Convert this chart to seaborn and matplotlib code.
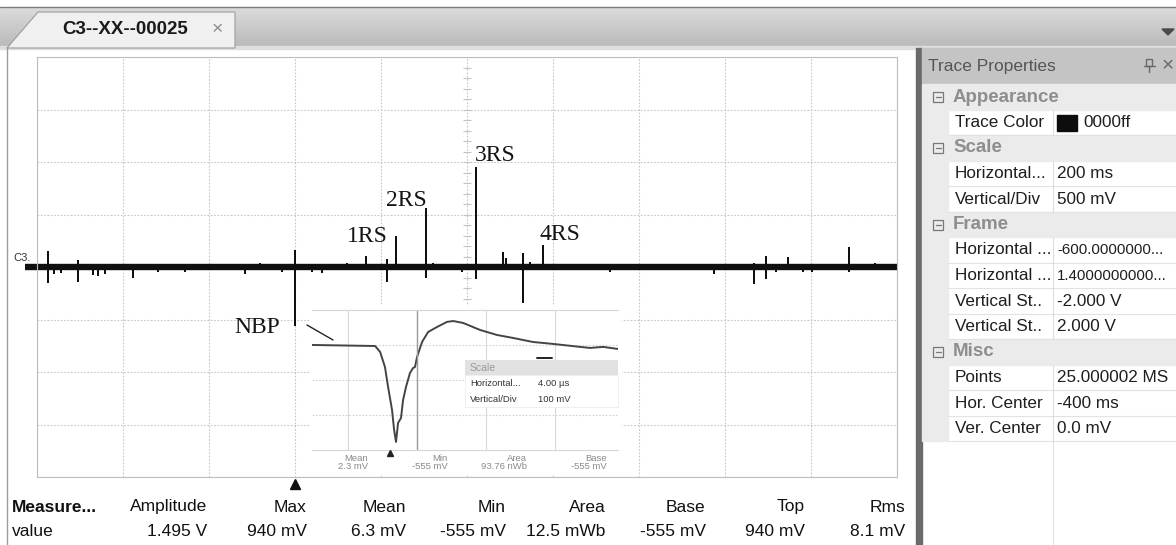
import numpy as np
import pandas as pd
import matplotlib
matplotlib.use("Agg")
import matplotlib.pyplot as plt
import matplotlib.transforms as mtransforms
from matplotlib.patches import Rectangle, Polygon
import seaborn as sns

W, H = 1176, 545

# ---------------- data ----------------
tab_title = "C3--XX--00025"
channel_name = "C3."

H_DIV_MS = 200        # horizontal scale (ms / div)
V_DIV_MV = 500        # vertical scale (mV / div)
CENTER_MS = -400      # horizontal centre

spike_time_ms = [-1374, -1360, -1344, -1305, -1270, -1258, -1242, -1177, -1119, -1056,
                 -916, -881, -830, -800, -760, -737, -679, -635, -586, -565,
                 -495, -479, -412, -379, -316, -309, -270, -253, -223, -67,
                 174, 267, 295, 319, 347, 381, 402, 488, 549]
spike_high_mV = [143, 0, 0, 57, 0, 0, 0, 0, 0, 0,
                 10, 29, 0, 152, 0, 0, 29, 95, 67, 285,
                 552, 29, 0, 940, 133, 76, 124, 38, 200, 0,
                 0, 29, 95, 0, 86, 0, 0, 181, 29]
spike_low_mV = [-143, -57, -48, -133, -67, -76, -57, -95, -38, -38,
                -57, 0, -38, -555, -38, -48, 0, 0, -133, -20,
                -95, 0, -38, -105, 0, 0, -333, 0, 0, -38,
                -57, -152, -105, -38, 0, -38, -38, -38, 0]

event_labels = ["NBP", "1RS", "2RS", "3RS", "4RS"]
event_time_ms = [-800, -565, -495, -379, -223]

# zoomed NBP waveform (inset)
inset_t_us = [1.91, 5.57, 5.86, 6.14, 6.32, 6.55, 6.67, 6.78, 6.90, 7.07, 7.19, 7.36, 7.59,
              7.77, 7.88, 8.0, 8.29, 8.64, 9.16, 9.74, 10.09, 10.67, 11.65, 12.64, 13.57,
              14.72, 15.88, 17.45, 18.03, 18.78, 19.65]
inset_v_mV = [0, -6, -40, -126, -240, -372, -486, -555, -446, -418, -315, -240, -160,
              -132, -126, -69, 17, 74, 103, 132, 137, 126, 86, 57, 40,
              17, 6, -11, -17, -11, -23]
inset_meas_names = ["Mean", "Min", "Area", "Base"]
inset_meas_values = ["2.3 mV", "-555 mV", "93.76 nWb", "-555 mV"]
inset_scale_names = ["Horizontal...", "Vertical/Div"]
inset_scale_values = ["4.00 µs", "100 mV"]

meas_names = ["Amplitude", "Max", "Mean", "Min", "Area", "Base", "Top", "Rms"]
meas_values = ["1.495 V", "940 mV", "6.3 mV", "-555 mV", "12.5 mWb", "-555 mV", "940 mV", "8.1 mV"]

prop_names = ["Appearance", "Trace Color", "Scale", "Horizontal...", "Vertical/Div", "Frame",
              "Horizontal ...", "Horizontal ...", "Vertical St..", "Vertical St..", "Misc",
              "Points", "Hor. Center", "Ver. Center"]
prop_values = [None, "0000ff", None, "200 ms", "500 mV", None,
               "-600.0000000...", "1.4000000000...", "-2.000 V", "2.000 V", None,
               "25.000002 MS", "-400 ms", "0.0 mV"]

# ---------------- style ----------------
sns.set_style("white")
plt.rcParams['font.family'] = ['Liberation Sans', 'DejaVu Sans']

fig = plt.figure(figsize=(W / 100, H / 100), dpi=100)


def px_rect(x0, y0, x1, y1):
    return [x0 / W, 1 - y1 / H, (x1 - x0) / W, (y1 - y0) / H]


def px_axes(x0, y0, x1, y1, z):
    a = fig.add_axes(px_rect(x0, y0, x1, y1), zorder=z)
    a.set_xlim(x0, x1)
    a.set_ylim(y1, y0)
    a.set_xticks([])
    a.set_yticks([])
    for s in a.spines.values():
        s.set_visible(False)
    return a


# ---------------- background chrome ----------------
bg = px_axes(0, 0, W, H, 0)
bg.set_facecolor('white')
grad = np.linspace(0.86, 0.73, 60).reshape(-1, 1)
bg.imshow(grad, extent=(0, W, 46, 7), cmap='gray', vmin=0, vmax=1, aspect='auto', zorder=0)
bg.plot([0, W], [7, 7], color='#7c7c7c', lw=1)
bg.add_patch(Rectangle((0, 46), W, 3, color='#dedede', zorder=1))
bg.add_patch(Polygon([(7, 48), (38, 12), (235, 12), (235, 48)], closed=True,
                     facecolor='#f0f0f0', edgecolor='#9c9c9c', lw=0.8, zorder=2))
bg.text(62, 30, tab_title, fontsize=13.5, fontweight='bold', color='#1a1a1a', va='center', ha='left')
bg.text(217, 30, "×", fontsize=14, color='#8c8c8c', va='center', ha='center')
bg.add_patch(Polygon([(1162, 29), (1174, 29), (1168, 35)], closed=True, color='#4a4a4a', zorder=2))

# main panel border and separator
bg.plot([7, 7], [48, H], color='#9c9c9c', lw=1)
bg.add_patch(Rectangle((916, 48), 6, H - 48, color='#6a6a6a', zorder=2))

# channel marker
bg.text(13, 258, channel_name, fontsize=8, color='#333333', va='center', ha='left')
bg.plot([25, 38], [267, 267], color='#101010', lw=4.6, solid_capstyle='butt')

# bottom measurement table
bg.text(12, 507, "Measure...", fontsize=12.5, fontweight='bold', color='#111111', va='center', ha='left')
bg.text(12, 531, "value", fontsize=12.5, color='#111111', va='center', ha='left')
for i, (n, v) in enumerate(zip(meas_names, meas_values)):
    xr = 207 + 99.7 * i
    bg.text(xr, 507, n, fontsize=12.5, color='#111111', va='center', ha='right')
    bg.text(xr, 531, v, fontsize=12.5, color='#111111', va='center', ha='right')

# right property panel
bg.add_patch(Rectangle((922, 48), W - 922, 35, color='#c4c4c4', zorder=2))
bg.text(928, 66, "Trace Properties", fontsize=12.5, color='#555555', va='center', ha='left', zorder=3)
bg.add_patch(Rectangle((1146, 59), 6, 7, fill=False, edgecolor='#6a6a6a', lw=1, zorder=3))
bg.plot([1143.5, 1154.5], [66, 66], color='#6a6a6a', lw=1, zorder=3)
bg.plot([1149, 1149], [66, 72], color='#6a6a6a', lw=1, zorder=3)
bg.text(1168, 66, "×", fontsize=15, color='#6a6a6a', va='center', ha='center', zorder=3)

row_h = 25.5
y0 = 97
for k, (n, v) in enumerate(zip(prop_names, prop_values)):
    yc = y0 + row_h * k
    top = yc - row_h / 2
    if v is None:
        bg.add_patch(Rectangle((922, top), W - 922, row_h, color='#ebebeb', zorder=2))
        bg.add_patch(Rectangle((933, yc - 5), 10, 10, fill=False, edgecolor='#777777', lw=0.9, zorder=3))
        bg.plot([935.5, 940.5], [yc, yc], color='#777777', lw=0.9, zorder=3)
        bg.text(953, yc, n, fontsize=13.5, fontweight='bold', color='#8e8e8e', va='center', ha='left', zorder=3)
    else:
        bg.add_patch(Rectangle((922, top), 26, row_h, color='#ebebeb', zorder=2))
        bg.plot([948, W], [top + row_h, top + row_h], color='#e2e2e2', lw=0.8, zorder=3)
        bg.plot([1053, 1053], [top, top + row_h], color='#dcdcdc', lw=0.8, zorder=3)
        bg.text(955, yc, n, fontsize=12.3, color='#1e1e1e', va='center', ha='left', zorder=3)
        vfs = 10.8 if len(v) > 12 else 12.3
        if n == "Trace Color":
            bg.add_patch(Rectangle((1057, yc - 7.5), 20, 16, color='#0d0d0d', zorder=3))
            bg.text(1083, yc, v, fontsize=vfs, color='#1e1e1e', va='center', ha='left', zorder=3)
        else:
            bg.text(1057, yc, v, fontsize=vfs, color='#1e1e1e', va='center', ha='left', zorder=3)
last_bottom = y0 + row_h * (len(prop_names) - 0.5)
bg.plot([1053, 1053], [last_bottom, H], color='#e2e2e2', lw=0.8, zorder=3)
bg.set_xlim(0, W)
bg.set_ylim(H, 0)

# ---------------- main oscilloscope trace ----------------
x_lo, x_hi = CENTER_MS - 5 * H_DIV_MS, CENTER_MS + 5 * H_DIV_MS
y_lo, y_hi = -4 * V_DIV_MV, 4 * V_DIV_MV

pts = [(x_lo, 0)]
for t, hi, lo in zip(spike_time_ms, spike_high_mV, spike_low_mV):
    pts += [(t, 0), (t, hi), (t, lo), (t, 0)]
pts.append((x_hi, 0))
trace = pd.DataFrame(pts, columns=["t", "v"])

ax = fig.add_axes(px_rect(37, 57, 897, 477), zorder=2)
ax.set_facecolor('white')
sns.lineplot(x=[x_lo, x_hi], y=[0, 0], ax=ax, color='#101010', lw=4.6, estimator=None, sort=False)
sns.lineplot(data=trace, x="t", y="v", ax=ax, color='#101010', lw=1.35, estimator=None, sort=False)
ax.set_xlim(x_lo, x_hi)
ax.set_ylim(y_lo, y_hi)
ax.set_xticks(np.arange(x_lo, x_hi + 1, H_DIV_MS))
ax.set_yticks(np.arange(y_lo, y_hi + 1, V_DIV_MV))
ax.grid(True, color='#c6c6c6', lw=0.8, ls=(0, (1.5, 1.5)))
ax.set_axisbelow(True)
ax.tick_params(length=0, labelbottom=False, labelleft=False)
ax.set_xlabel("")
ax.set_ylabel("")
for s in ax.spines.values():
    s.set_color('#bdbdbd')
    s.set_linewidth(0.8)
minor_v = np.arange(y_lo, y_hi + 1, V_DIV_MV / 5)
ax.plot(np.full(len(minor_v), CENTER_MS), minor_v, ls='none', marker='_', ms=6, mew=0.8,
        color='#c4c4c4', zorder=1)

# event labels
label_style = {"NBP": ("low", (-10.8, -5.8), 'right'),
               "1RS": ("high", (-5.8, -3.6), 'right'),
               "2RS": ("high", (0.7, 2.2), 'right'),
               "3RS": ("high", (-0.7, 5.0), 'left'),
               "4RS": ("high", (-2.9, 4.3), 'left')}
for lab, t in zip(event_labels, event_time_ms):
    i = spike_time_ms.index(t)
    which, off, ha = label_style[lab]
    yv = spike_high_mV[i] if which == "high" else spike_low_mV[i]
    ax.annotate(lab, xy=(t, yv), xytext=off, textcoords='offset points', ha=ha, va='baseline',
                fontsize=17, fontfamily='Liberation Serif', color='#151515')

# trigger marker below the grid
blend = mtransforms.blended_transform_factory(ax.transData, ax.transAxes)
ax.plot([event_time_ms[0]], [-0.016], transform=blend, marker='^', ms=6.5, color='#111111',
        clip_on=False, ls='none')

# ---------------- inset (zoomed NBP) ----------------
cont = px_axes(310, 306, 622, 474, 3)
cont.set_facecolor('white')
for i, (n, v) in enumerate(zip(inset_meas_names, inset_meas_values)):
    xr = 368 + 79.7 * i
    cont.text(xr, 458, n, fontsize=6.8, color='#8a8a8a', ha='right', va='center')
    cont.text(xr, 466.5, v, fontsize=6.8, color='#8a8a8a', ha='right', va='center')

ins = fig.add_axes(px_rect(312, 310, 618, 450), zorder=4)
ins.set_facecolor('none')
sns.lineplot(x=inset_t_us, y=inset_v_mV, ax=ins, color='#444444', lw=1.4, estimator=None, sort=False)
ins.set_xlim(inset_t_us[0], inset_t_us[-1])
ins.set_ylim(-601, 200)
ins.set_xticks([4, 8, 12, 16])
ins.set_yticks([-400, -200, 0])
ins.xaxis.grid(True, color='#d9d9d9', lw=0.8, ls='-')
ins.yaxis.grid(True, color='#d2d2d2', lw=0.8, ls=(0, (1.5, 1.5)))
ins.axvline(8, color='#9c9c9c', lw=1.0)
ins.tick_params(length=0, labelbottom=False, labelleft=False)
ins.set_xlabel("")
ins.set_ylabel("")
for side in ['left', 'right']:
    ins.spines[side].set_visible(False)
for side in ['top', 'bottom']:
    ins.spines[side].set_color('#d6d6d6')
    ins.spines[side].set_linewidth(0.8)

# ---------------- overlay ----------------
ov = px_axes(0, 0, W, H, 5)
ov.set_facecolor('none')
ov.add_patch(Rectangle((465, 360), 153, 15, facecolor='#e1e1e1', edgecolor='none'))
ov.add_patch(Rectangle((465, 375), 153, 32, facecolor='white', edgecolor='#ececec', lw=0.6))
ov.text(470, 368, "Scale", fontsize=7.5, color='#9a9a9a', ha='left', va='center')
for j, (n, v) in enumerate(zip(inset_scale_names, inset_scale_values)):
    yc = 384 + 15 * j
    ov.text(470, yc, n, fontsize=6.8, color='#333333', ha='left', va='center')
    ov.text(538, yc, v, fontsize=6.8, color='#333333', ha='left', va='center')
ov.plot([537, 552], [358, 358], color='#222222', lw=1.4)
ov.plot([307, 333], [325, 340], color='#222222', lw=1.0)
ov.plot([390], [453], marker='^', ms=4.5, color='#222222', ls='none')
ov.set_xlim(0, W)
ov.set_ylim(H, 0)

fig.savefig("out.png", dpi=100)
